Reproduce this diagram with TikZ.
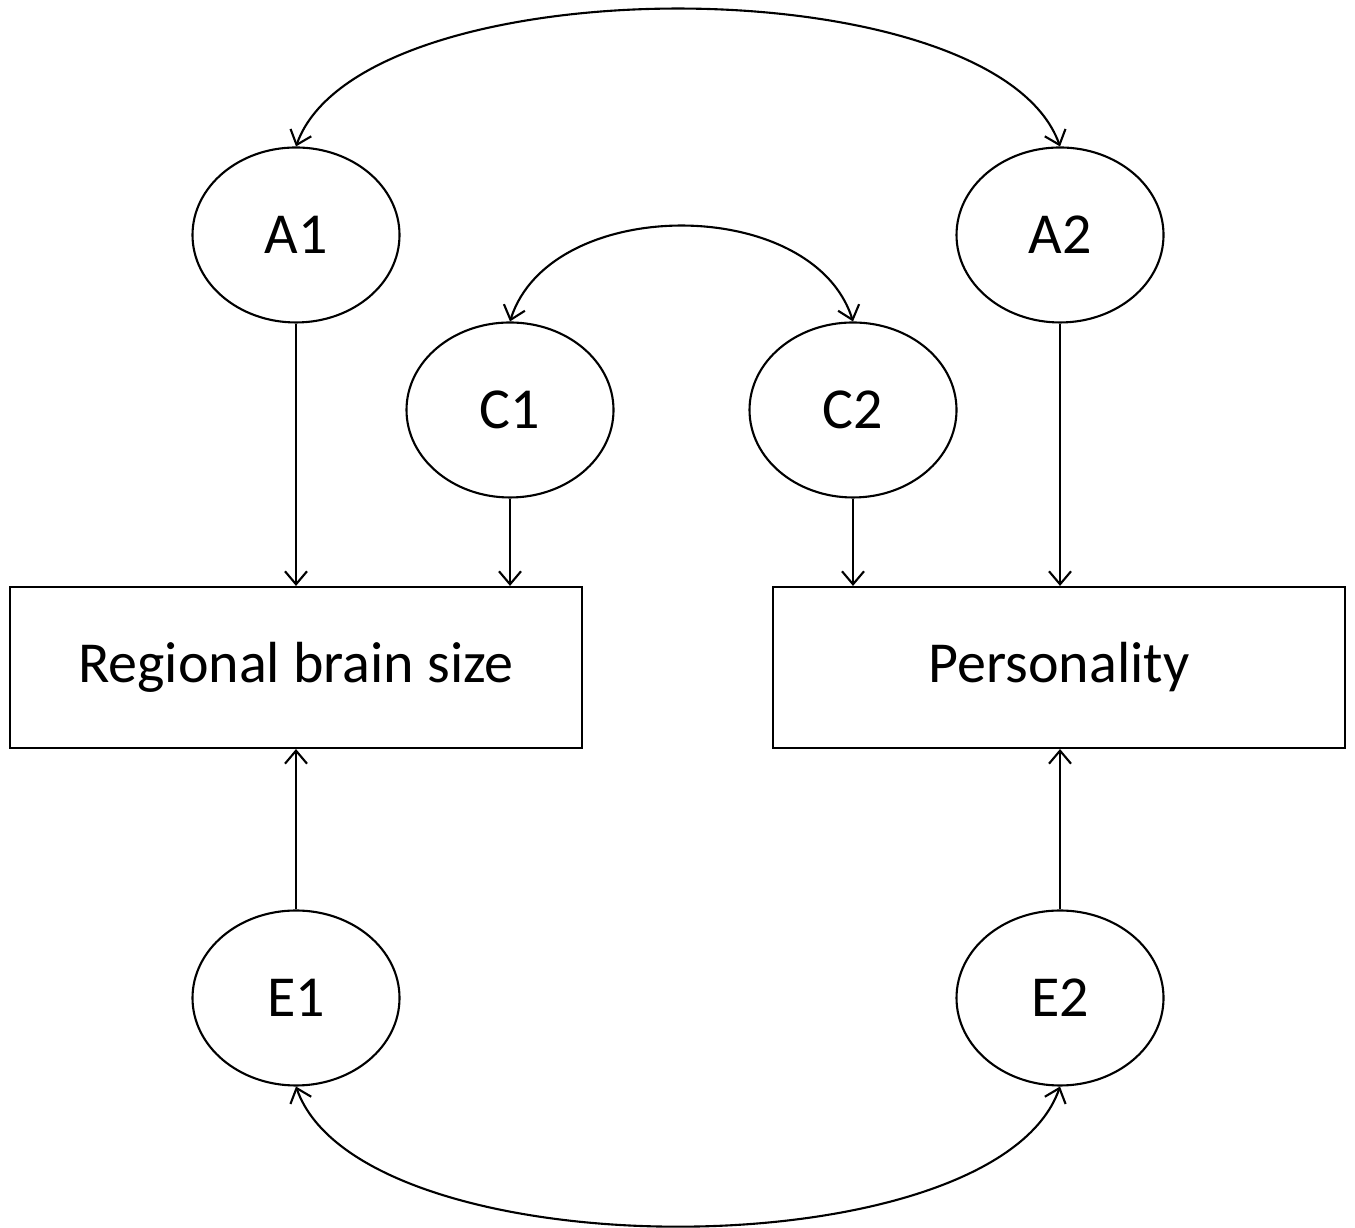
\documentclass[tikz,border=0pt]{standalone}
\usepackage{fontspec}
\setmainfont{Carlito}
\usetikzlibrary{shapes.geometric,arrows.meta}

\begin{document}
\begin{tikzpicture}[line width=0.6pt,
  latent/.style={ellipse, draw, minimum width=2.07cm, minimum height=1.75cm, inner sep=0pt, font=\fontsize{16.5}{20}\selectfont},
  observed/.style={rectangle, draw, minimum width=5.72cm, minimum height=1.61cm, font=\fontsize{16.5}{20}\selectfont},
  path/.style={-{Straight Barb[length=1.3mm,width=2.2mm]}},
  cov/.style={{Straight Barb[length=1.3mm,width=2.2mm]}-{Straight Barb[length=1.3mm,width=2.2mm]}}]
\useasboundingbox (0,0) rectangle (13.55,12.28);
\node[latent] (A1) at (2.96,9.93) {A1};
\node[latent] (A2) at (10.60,9.93) {A2};
\node[latent] (C1) at (5.10,8.18) {C1};
\node[latent] (C2) at (8.53,8.18) {C2};
\node[observed] (brain) at (2.96,5.605) {Regional brain size};
\node[observed] (pers) at (10.59,5.605) {Personality};
\node[latent] (E1) at (2.96,2.30) {E1};
\node[latent] (E2) at (10.60,2.30) {E2};
\draw[path] (A1) -- (A1 |- brain.north);
\draw[path] (C1) -- (C1 |- brain.north);
\draw[path] (C2) -- (C2 |- pers.north);
\draw[path] (A2) -- (A2 |- pers.north);
\draw[path] (E1) -- (E1 |- brain.south);
\draw[path] (E2) -- (E2 |- pers.south);
\draw[cov] (A1.north) .. controls +(0.65,1.83) and +(-0.65,1.83) .. (A2.north);
\draw[cov] (C1.north) .. controls +(0.4,1.27) and +(-0.4,1.27) .. (C2.north);
\draw[cov] (E1.south) .. controls +(0.65,-1.86) and +(-0.65,-1.86) .. (E2.south);
\end{tikzpicture}
\end{document}
